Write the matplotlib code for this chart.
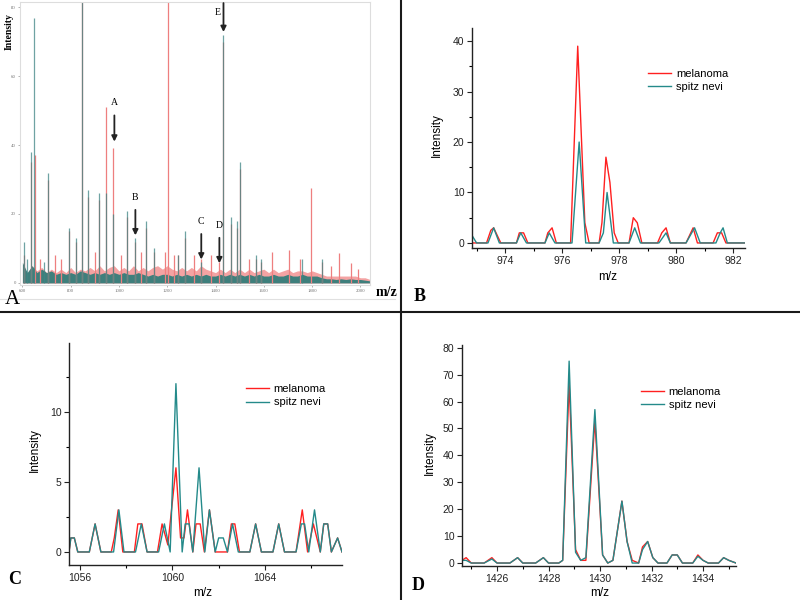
import matplotlib
matplotlib.use('Agg')
import numpy as np
import matplotlib.pyplot as plt
from matplotlib.lines import Line2D
from matplotlib.ticker import MultipleLocator

# colours
RED = '#ff2020'
TEAL = '#248a8a'

# ---- panel A: whole spectrum (stick peaks + noise band) ----
a_mel_mz = [608, 634, 651, 672, 706, 735, 760, 793, 821, 846, 873, 900, 918, 948, 976.5,
            1010, 1032, 1068, 1090, 1111, 1145, 1190, 1203, 1230, 1245, 1272, 1310, 1340,
            1380, 1416, 1433, 1466, 1490, 1502, 1540, 1569, 1590, 1636, 1706, 1750, 1797,
            1843, 1880, 1912, 1963, 1990]
a_mel_int = [8, 35, 37, 7, 30, 8, 7, 15, 12, 95, 25, 9, 24, 51, 39,
             8, 19, 12, 9, 16, 9, 9, 95, 8, 8, 13, 8, 7,
             8, 6, 70, 17, 16, 33, 7, 7, 6, 9, 9.5, 7, 27.5,
             6, 5, 8.6, 5.8, 4]
a_spitz_mz = [608, 620, 634, 648, 690, 706, 793, 821, 846, 873, 918, 948, 976.5, 1032,
              1068, 1111, 1145, 1245, 1272, 1340, 1433, 1466, 1490, 1502, 1569, 1590,
              1758, 1843]
a_spitz_int = [12, 7, 38, 77, 6, 32, 16, 13, 95, 27, 26, 26, 20, 21,
               13, 18, 10, 8, 15, 6, 72, 19, 18, 35, 8, 7,
               7, 7]

noise_mz = np.arange(600, 2041, 20)
noise_spitz = [6, 3, 5, 3, 4, 3, 3.5, 2.5, 3, 2.5, 3, 2.5, 3.5, 3, 2.5, 3, 2.5, 3, 2.5, 3,
               2.5, 3, 2.5, 2.5, 3, 2.5, 2, 2.5, 2, 2.5, 2.5, 2, 2.5, 2, 2.5, 2, 2.5, 2,
               2.5, 2, 2, 2.5, 2, 2.5, 2, 2.5, 2, 2.5, 2, 2.5, 2, 2, 2.5, 2, 2, 2.5, 2, 2,
               2.5, 2, 2, 2, 1.5, 1.2, 1.2, 1, 1.2, 1, 1.2, 1, 1, 0.8, 0.6]
noise_mel = [4, 3, 5, 3.5, 4.5, 3, 4, 3, 4, 3,
             4.5, 3, 4, 3.5, 4.5, 3.5, 5, 3.5, 4.5, 5,
             3.5, 4.5, 3.5, 5, 3.5, 4.5, 3.5, 4.5, 5, 4,
             5, 4, 3.5, 4.5, 3.5, 4.5, 3.5, 5, 4, 3.5,
             3, 4, 3, 4, 3, 4, 3, 4, 3, 3.5,
             4, 3, 4, 3, 3.5, 4, 3, 3.5, 3.5, 3,
             3.5, 3, 2.5, 2, 2, 2, 2, 2, 2, 2,
             1.5, 1.5, 1]

a_ticks = [600, 800, 1000, 1200, 1400, 1600, 1800, 2000]
a_arrows = ['A', 'B', 'C', 'D', 'E']
a_arrow_mz = [981, 1068, 1341, 1416, 1433]
a_arrow_top = [49.4, 22, 15, 13.9, 82]
a_arrow_tip = [40.2, 13, 6, 4.9, 72]

# ---- panel B ----
b_mel_mz = [972.84, 973.35, 973.5, 973.6, 973.85, 974.4, 974.5, 974.65, 974.8, 975.4, 975.5,
            975.65, 975.8, 976.3, 976.55, 976.8, 976.95, 977.3, 977.4, 977.54, 977.68,
            977.83, 977.97, 978.35, 978.5, 978.64, 978.8, 979.35, 979.5, 979.65, 979.8,
            980.35, 980.6, 980.75, 981.3, 981.45, 981.6, 981.75, 982.42]
b_mel_int = [0, 0, 2.5, 3, 0, 0, 2, 2, 0, 0, 2,
             3, 0, 0, 39, 4, 0, 0, 4, 17, 12,
             2, 0, 0, 5, 4, 0, 0, 2, 3, 0,
             0, 3, 0, 0, 2, 2, 0, 0]
b_spitz_mz = [972.84, 973.0, 973.4, 973.6, 973.8, 974.4, 974.55, 974.75, 975.4, 975.55, 975.75,
              976.35, 976.6, 976.83, 977.3, 977.45, 977.58, 977.8, 978.35, 978.55, 978.75,
              979.4, 979.65, 979.8, 980.35, 980.55, 980.65, 980.85, 981.4, 981.55, 981.65,
              981.8, 982.42]
b_spitz_int = [1.5, 0, 0, 3, 0, 0, 2, 0, 0, 2, 0,
               0, 20, 0, 0, 2, 10, 0, 0, 3, 0,
               0, 2, 0, 0, 2, 3, 0, 0, 2, 3,
               0, 0]

# ---- panel C ----
c_mel_mz = [1055.52, 1055.6, 1055.75, 1055.9, 1056.4, 1056.65, 1056.9, 1057.35, 1057.48, 1057.65,
            1057.85, 1058.35, 1058.5, 1058.68, 1058.9, 1059.35, 1059.55, 1059.8, 1060.15, 1060.35,
            1060.5, 1060.65, 1060.88, 1061.02, 1061.2, 1061.38, 1061.6, 1061.85, 1062.38, 1062.55,
            1062.7, 1062.9, 1063.35, 1063.6, 1063.85, 1064.35, 1064.6, 1064.85, 1065.35, 1065.62,
            1065.85, 1066.1, 1066.4, 1066.55, 1066.72, 1066.88, 1067.15, 1067.34]
c_mel_int = [0, 1, 1, 0, 0, 2, 0, 0, 1, 3,
             0, 0, 2, 2, 0, 0, 2, 0.5, 6, 1,
             1, 3, 0, 2, 2, 0, 3, 0, 0, 2,
             2, 0, 0, 2, 0, 0, 2, 0, 0, 3,
             0, 2, 0, 2, 2, 0, 1, 0]
c_spitz_mz = [1055.52, 1055.6, 1055.75, 1055.9, 1056.4, 1056.65, 1056.9, 1057.45, 1057.68, 1057.9,
              1058.4, 1058.65, 1058.9, 1059.4, 1059.65, 1059.9, 1060.15, 1060.42, 1060.55, 1060.72,
              1060.88, 1061.15, 1061.4, 1061.6, 1061.85, 1062.0, 1062.2, 1062.38, 1062.6, 1062.85,
              1063.35, 1063.6, 1063.85, 1064.35, 1064.6, 1064.85, 1065.35, 1065.58, 1065.72, 1065.9,
              1066.15, 1066.4, 1066.55, 1066.72, 1066.88, 1067.15, 1067.34]
c_spitz_int = [0, 1, 1, 0, 0, 2, 0, 0, 3, 0,
               0, 2, 0, 0, 2, 0, 12, 0, 2, 2,
               0, 6, 0, 3, 0, 1, 1, 0, 2, 0,
               0, 2, 0, 0, 2, 0, 0, 2, 2, 0,
               3, 0, 2, 2, 0, 1, 0]

# ---- panel D ----
d_mz = [1424.64, 1424.8, 1425.0, 1425.5, 1425.8, 1426.0, 1426.5, 1426.8, 1427.0, 1427.5,
        1427.8, 1428.0, 1428.4, 1428.55, 1428.8, 1429.05, 1429.25, 1429.45, 1429.8, 1430.1,
        1430.3, 1430.5, 1430.85, 1431.05, 1431.25, 1431.5, 1431.65, 1431.85, 1432.05, 1432.25,
        1432.6, 1432.8, 1433.0, 1433.2, 1433.6, 1433.8, 1434.0, 1434.2, 1434.6, 1434.8,
        1435.0, 1435.28]
d_mel_int = [1, 2, 0, 0, 2, 0, 0, 2, 0, 0,
             2, 0, 0, 1, 67, 5, 1, 1, 53, 3,
             0, 1, 23, 8, 1, 0, 6, 8, 2, 0,
             0, 3, 3, 0, 0, 3, 1, 0, 0, 2,
             1, 0]
d_spitz_int = [1, 1, 0, 0, 1.5, 0, 0, 2, 0, 0,
               2, 0, 0, 1, 75, 4, 1, 2, 57, 3,
               0, 1, 23, 8, 0, 0, 5, 8, 2, 0,
               0, 3, 3, 0, 0, 2.5, 1, 0, 0, 2,
               1, 0]


def box(l, t, r, b):
    # pixel box (800x600, origin top-left) -> figure fraction rect
    return [l / 800, 1 - b / 600, (r - l) / 800, (b - t) / 600]


def px(x, y):
    return x / 800, 1 - y / 600


fig = plt.figure(figsize=(8, 6), dpi=100)
SANS = 'Liberation Sans'
SERIF = 'Liberation Serif'

# panel A
ax = fig.add_axes(box(20, 2, 370, 285))
ax.fill_between(noise_mz, 0, noise_mel, color='#f4a3a3', lw=0)
ax.vlines(a_mel_mz, 0, a_mel_int, color='#ee7f7f', lw=0.9)
ax.vlines(a_spitz_mz, 0, a_spitz_int, color='#3f8584', lw=0.9, alpha=0.75)
ax.fill_between(noise_mz, 0, noise_spitz, color='#3e7f7c', lw=0)
ax.set_xlim(590, 2040)
ax.set_ylim(-0.6, 81.5)
ax.set_xticks(a_ticks)
ax.set_yticks([0, 20, 40, 60, 80])
ax.tick_params(labelsize=3.5, length=1.5, width=0.4, colors='#777777', pad=1.5)
for t in ax.get_xticklabels() + ax.get_yticklabels():
    t.set_family(SERIF)
for s in ax.spines.values():
    s.set_color('#dddddd')
    s.set_linewidth(0.8)
for lab, m, y0, y1 in zip(a_arrows, a_arrow_mz, a_arrow_top, a_arrow_tip):
    ax.annotate('', xy=(m, y1), xytext=(m, y0),
                arrowprops=dict(arrowstyle='-|>', color='#222222', lw=1.3, mutation_scale=8),
                annotation_clip=False)
    if lab == 'E':
        ax.text(m - 25, 78.5, lab, family=SERIF, fontsize=7, ha='center', va='center')
    else:
        ax.text(m, y0 + 1.5, lab, family=SERIF, fontsize=7, ha='center', va='bottom')
fig.text(*px(9, 32), 'Intensity', family=SERIF, fontsize=7, fontweight='bold',
         rotation=90, ha='center', va='center')
fig.text(*px(386, 293), 'm/z', family=SERIF, fontsize=10, fontweight='bold',
         ha='center', va='center')
fig.add_artist(Line2D([0, 395 / 800], [1 - 299 / 600] * 2, color='#e0e0e0', lw=0.8))


def small_panel(rect, x1, y1, x2, y2, xlim, ylim, xmaj, xmin, ymaj, ymin, leg_at):
    ax = fig.add_axes(rect)
    ax.plot(x1, y1, color=RED, lw=1.0, label='melanoma')
    ax.plot(x2, y2, color=TEAL, lw=1.0, label='spitz nevi')
    ax.set_xlim(*xlim)
    ax.set_ylim(*ylim)
    ax.xaxis.set_major_locator(MultipleLocator(xmaj))
    ax.xaxis.set_minor_locator(MultipleLocator(xmin))
    ax.yaxis.set_major_locator(MultipleLocator(ymaj))
    if ymin:
        ax.yaxis.set_minor_locator(MultipleLocator(ymin))
    ax.spines['top'].set_visible(False)
    ax.spines['right'].set_visible(False)
    for s in ('left', 'bottom'):
        ax.spines[s].set_color('#222222')
        ax.spines[s].set_linewidth(1.0)
    ax.tick_params(which='major', length=3.5, width=0.8, labelsize=7.5, pad=2, colors='#222222')
    ax.tick_params(which='minor', length=2, width=0.8)
    for t in ax.get_xticklabels() + ax.get_yticklabels():
        t.set_family(SANS)
    ax.legend(loc='upper left', bbox_to_anchor=leg_at, frameon=False, borderpad=0,
              borderaxespad=0, handlelength=2.1, handletextpad=0.4, labelspacing=0.3,
              prop={'family': SANS, 'size': 8})
    return ax


small_panel(box(472, 28, 745, 248), b_mel_mz, b_mel_int, b_spitz_mz, b_spitz_int,
            (972.84, 982.42), (-1.0, 42.6), 2, 1, 10, 5, (0.645, 0.815))
small_panel(box(69, 343, 342, 565), c_mel_mz, c_mel_int, c_spitz_mz, c_spitz_int,
            (1055.52, 1067.34), (-0.93, 14.9), 4, 2, 5, 2.5, (0.648, 0.815))
small_panel(box(462, 345, 736, 566), d_mz, d_mel_int, d_mz, d_spitz_int,
            (1424.64, 1435.28), (-1.1, 81.0), 2, 1, 10, None, (0.653, 0.81))

# axis titles of B, C, D
for (xl, yl), (xx, xy) in [((437, 135), (608, 277)), ((35, 450), (203, 593)),
                           ((430, 453), (600, 593))]:
    fig.text(*px(xl, yl), 'Intensity', family=SANS, fontsize=8.5, rotation=90,
             ha='center', va='center')
    fig.text(*px(xx, xy), 'm/z', family=SANS, fontsize=8.5, ha='center', va='center')

# panel letters
fig.text(*px(12, 300), 'A', family=SERIF, fontsize=15, ha='center', va='center')
fig.text(*px(420, 296), 'B', family=SERIF, fontsize=13, fontweight='bold', ha='center', va='center')
fig.text(*px(15, 580), 'C', family=SERIF, fontsize=13, fontweight='bold', ha='center', va='center')
fig.text(*px(418, 585), 'D', family=SERIF, fontsize=13, fontweight='bold', ha='center', va='center')

# separator lines between the panels
fig.add_artist(Line2D([401 / 800] * 2, [0, 1], color='#1a1a1a', lw=1.5))
fig.add_artist(Line2D([0, 1], [1 - 312 / 600] * 2, color='#1a1a1a', lw=1.5))

fig.savefig('out.png', dpi=100)
